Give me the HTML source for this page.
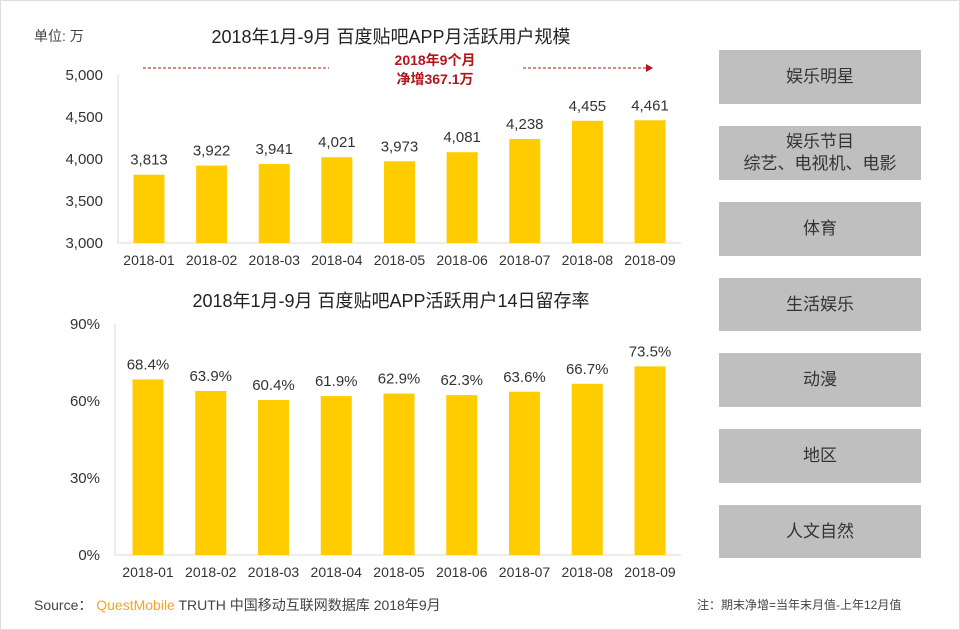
<!DOCTYPE html>
<html><head><meta charset="utf-8"><style>
body{margin:0;background:#fff;}
#root{position:relative;width:958px;height:628px;border:1px solid #ddd;background:#fff;font-family:"Liberation Sans","Noto Sans CJK SC",sans-serif;color:#333;overflow:hidden}
.box{position:absolute;left:718px;width:202px;background:#bfbfbf;display:flex;align-items:center;justify-content:center;text-align:center;font-size:17px;color:#333;line-height:22px}
svg text{font-family:"Liberation Sans","Noto Sans CJK SC",sans-serif}
</style></head><body>
<div id="root">
<svg id="chart" width="960" height="630" style="position:absolute;left:0;top:0">
<text x="33" y="40" font-size="14" fill="#444">单位: 万</text>
<text x="390" y="42" font-size="18" text-anchor="middle" fill="#222">2018年1月-9月  百度贴吧APP月活跃用户规模</text>
<text x="434" y="64" font-size="14" font-weight="bold" text-anchor="middle" fill="#b3151b">2018年9个月</text>
<text x="434" y="83" font-size="14" font-weight="bold" text-anchor="middle" fill="#b3151b">净增367.1万</text>
<line x1="142" y1="67" x2="328" y2="67" stroke="#b3151b" stroke-dasharray="3,2"/>
<line x1="522" y1="67" x2="645" y2="67" stroke="#b3151b" stroke-dasharray="3,2"/>
<polygon points="645,63 652,67 645,71" fill="#b3151b"/>
<text x="390" y="306" font-size="18" text-anchor="middle" fill="#222">2018年1月-9月  百度贴吧APP活跃用户14日留存率</text>
<g id="top"></g><g id="bot"></g>
</svg>
<div class="box" style="top:49px;height:54px">娱乐明星</div>
<div class="box" style="top:125px;height:54px">娱乐节目<br>综艺、电视机、电影</div>
<div class="box" style="top:201px;height:54px">体育</div>
<div class="box" style="top:277px;height:53px">生活娱乐</div>
<div class="box" style="top:352px;height:54px">动漫</div>
<div class="box" style="top:428px;height:54px">地区</div>
<div class="box" style="top:504px;height:53px">人文自然</div>
<div style="position:absolute;left:33px;top:594px;font-size:14px;color:#444">Source：&nbsp;<span style="color:#f5a623">QuestMobile</span> TRUTH 中国移动互联网数据库 2018年9月</div>
<div style="position:absolute;left:696px;top:595px;font-size:12px;color:#444">注：期末净增=当年末月值-上年12月值</div>
</div>
<script>
const months=["2018-01","2018-02","2018-03","2018-04","2018-05","2018-06","2018-07","2018-08","2018-09"];
const mau=[3813,3922,3941,4021,3973,4081,4238,4455,4461];
const mauTicks=[3000,3500,4000,4500,5000];
const retention=[68.4,63.9,60.4,61.9,62.9,62.3,63.6,66.7,73.5];
const retTicks=[0,30,60,90];
const NS="http://www.w3.org/2000/svg";
function mk(g,tag,attrs,txt){const e=document.createElementNS(NS,tag);for(const k in attrs)e.setAttribute(k,attrs[k]);if(txt!=null)e.textContent=txt;g.appendChild(e);return e;}
function draw(gid,vals,ticks,o,fmt,tfmt){
  const g=document.getElementById(gid);
  const y=v=>o.base-(v-ticks[0])/(ticks[ticks.length-1]-ticks[0])*(o.base-o.top);
  const x=i=>o.x0+i*(o.x1-o.x0)/(vals.length-1);
  let a=mk(g,'line',{x1:o.ax,y1:o.top,x2:o.ax,y2:o.base,stroke:'#d9d9d9'});
  
  
  a=mk(g,'line',{x1:o.ax,y1:o.base,x2:o.axEnd,y2:o.base,stroke:'#d9d9d9'});
  
  
  ticks.forEach(t=>{const e=mk(g,'text',{x:o.ax-15,y:y(t)+5,'font-size':15,'text-anchor':'end',fill:'#333'},tfmt(t));
    
    });
  vals.forEach((v,i)=>{
    const b=mk(g,'rect',{x:x(i)-15.5,y:y(v),width:31,height:o.base-y(v),fill:'#ffcc00'});
    
    
    const l=mk(g,'text',{x:x(i),y:y(v)-10,'font-size':15,'text-anchor':'middle',fill:'#333'},fmt(v));
    
    
    const c=mk(g,'text',{x:x(i),y:o.base+22,'font-size':14,'text-anchor':'middle',fill:'#333'},months[i]);
    
    
  });
}
draw('top',mau,mauTicks,{base:242,top:74,x0:148,x1:649,ax:117,axEnd:680},v=>v.toLocaleString('en-US'),t=>t.toLocaleString('en-US'));
draw('bot',retention,retTicks,{base:554,top:323,x0:147,x1:649,ax:114,axEnd:680},v=>v.toFixed(1)+'%',t=>t+'%');
</script>
</body></html>
